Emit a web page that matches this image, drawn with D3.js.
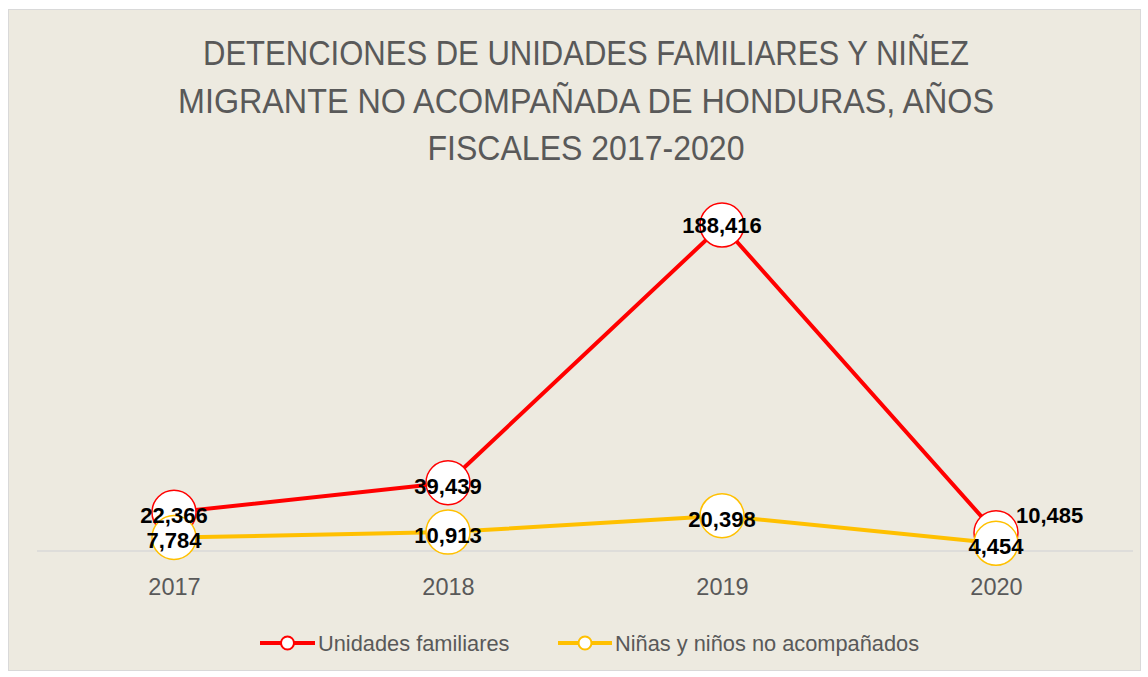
<!DOCTYPE html>
<html>
<head>
<meta charset="utf-8">
<script src="https://cdn.jsdelivr.net/npm/d3@7"></script>
<style>
  body { margin: 0; background: #fff; }
  svg text { font-family: "Liberation Sans", Arial, sans-serif; }
</style>
</head>
<body>
<svg id="chart"></svg>
<script>
const years = ["2017", "2018", "2019", "2020"];
const familias = [22366, 39439, 188416, 10485];
const ninez = [7784, 10913, 20398, 4454];
const seriesNames = ["Unidades familiares", "Niñas y niños no acompañados"];
const titleLines = [
  "DETENCIONES DE UNIDADES FAMILIARES Y NIÑEZ",
  "MIGRANTE NO ACOMPAÑADA DE HONDURAS, AÑOS",
  "FISCALES 2017-2020"
];

const width = 1148, height = 677;
const margin = { top: 205, right: 15, bottom: 126, left: 37 };
const colors = ["#ff0000", "#ffc000"];

const svg = d3.select("#chart")
  .attr("width", width)
  .attr("height", height);

// chart background
svg.append("rect")
  .attr("x", 8.5).attr("y", 9.5)
  .attr("width", 1132).attr("height", 661)
  .attr("fill", "#edeae0")
  .attr("stroke", "#d9d9d9")
  .attr("stroke-width", 1);

// title
const titleWidths = [766, 816, 317];
svg.append("g").selectAll("text")
  .data(titleLines)
  .join("text")
  .attr("x", 586)
  .attr("y", (d, i) => 65 + i * 47.5)
  .attr("text-anchor", "middle")
  .attr("font-size", 35)
  .attr("fill", "#595959")
  .attr("textLength", (d, i) => titleWidths[i])
  .attr("lengthAdjust", "spacingAndGlyphs")
  .text(d => d);

const x = d3.scalePoint()
  .domain(years)
  .range([margin.left, width - margin.right])
  .padding(0.5);

const y = d3.scaleLinear()
  .domain([0, 200000])
  .range([height - margin.bottom, margin.top]);

// baseline + category labels
const xAxis = d3.axisBottom(x).tickSize(0).tickPadding(27);
const gx = svg.append("g")
  .attr("class", "x-axis")
  .attr("transform", `translate(0, ${y(0)})`)
  .call(xAxis);
gx.select(".domain")
  .attr("stroke", "#d9d9d9")
  .attr("stroke-width", 1.5)
  .attr("d", `M${margin.left},0H${width - margin.right}`);
gx.selectAll("text")
  .attr("font-size", 23.5)
  .attr("fill", "#595959")
  .style("font-family", "Liberation Sans, Arial, sans-serif");

const series = [familias, ninez];
const line = d3.line()
  .x((d, i) => x(years[i]))
  .y(d => y(d));

series.forEach((vals, s) => {
  svg.append("path")
    .datum(vals)
    .attr("fill", "none")
    .attr("stroke", colors[s])
    .attr("stroke-width", 4)
    .attr("stroke-linejoin", "round")
    .attr("d", line);

  svg.append("g").selectAll("circle")
    .data(vals)
    .join("circle")
    .attr("cx", (d, i) => x(years[i]))
    .attr("cy", d => y(d))
    .attr("r", 22)
    .attr("fill", "#fff")
    .attr("stroke", colors[s])
    .attr("stroke-width", 1.5);
});

// data labels on top
const fmt = d3.format(",");
const isSide = (s, i) => s === 0 && i === years.length - 1;
series.forEach((vals, s) => {
  svg.append("g").selectAll("text")
    .data(vals)
    .join("text")
    .attr("x", (d, i) => isSide(s, i) ? x(years[i]) + 20 : x(years[i]))
    .attr("y", (d, i) => {
      if (isSide(s, i)) return y(d) - 18;
      if (i === 2 && s === 0) return y(d);
      return y(d) + 3;
    })
    .attr("dy", "0.36em")
    .attr("text-anchor", (d, i) => isSide(s, i) ? "start" : "middle")
    .attr("font-size", 22)
    .attr("font-weight", "bold")
    .attr("fill", "#000")
    .text(d => fmt(d));
});

// legend
const legendItems = [
  { x: 260, w: 55 },
  { x: 558, w: 54 }
];
const lg = svg.append("g");
seriesNames.forEach((name, s) => {
  const it = legendItems[s];
  const ly = 643;
  lg.append("line")
    .attr("x1", it.x).attr("x2", it.x + it.w)
    .attr("y1", ly).attr("y2", ly)
    .attr("stroke", colors[s]).attr("stroke-width", 4);
  lg.append("circle")
    .attr("cx", it.x + it.w / 2).attr("cy", ly)
    .attr("r", 6.5)
    .attr("fill", "#fff")
    .attr("stroke", colors[s]).attr("stroke-width", 2);
  lg.append("text")
    .attr("x", it.x + it.w + 3)
    .attr("y", ly)
    .attr("dy", "0.35em")
    .attr("font-size", 21.8)
    .attr("fill", "#595959")
    .text(name);
});
</script>
</body>
</html>
